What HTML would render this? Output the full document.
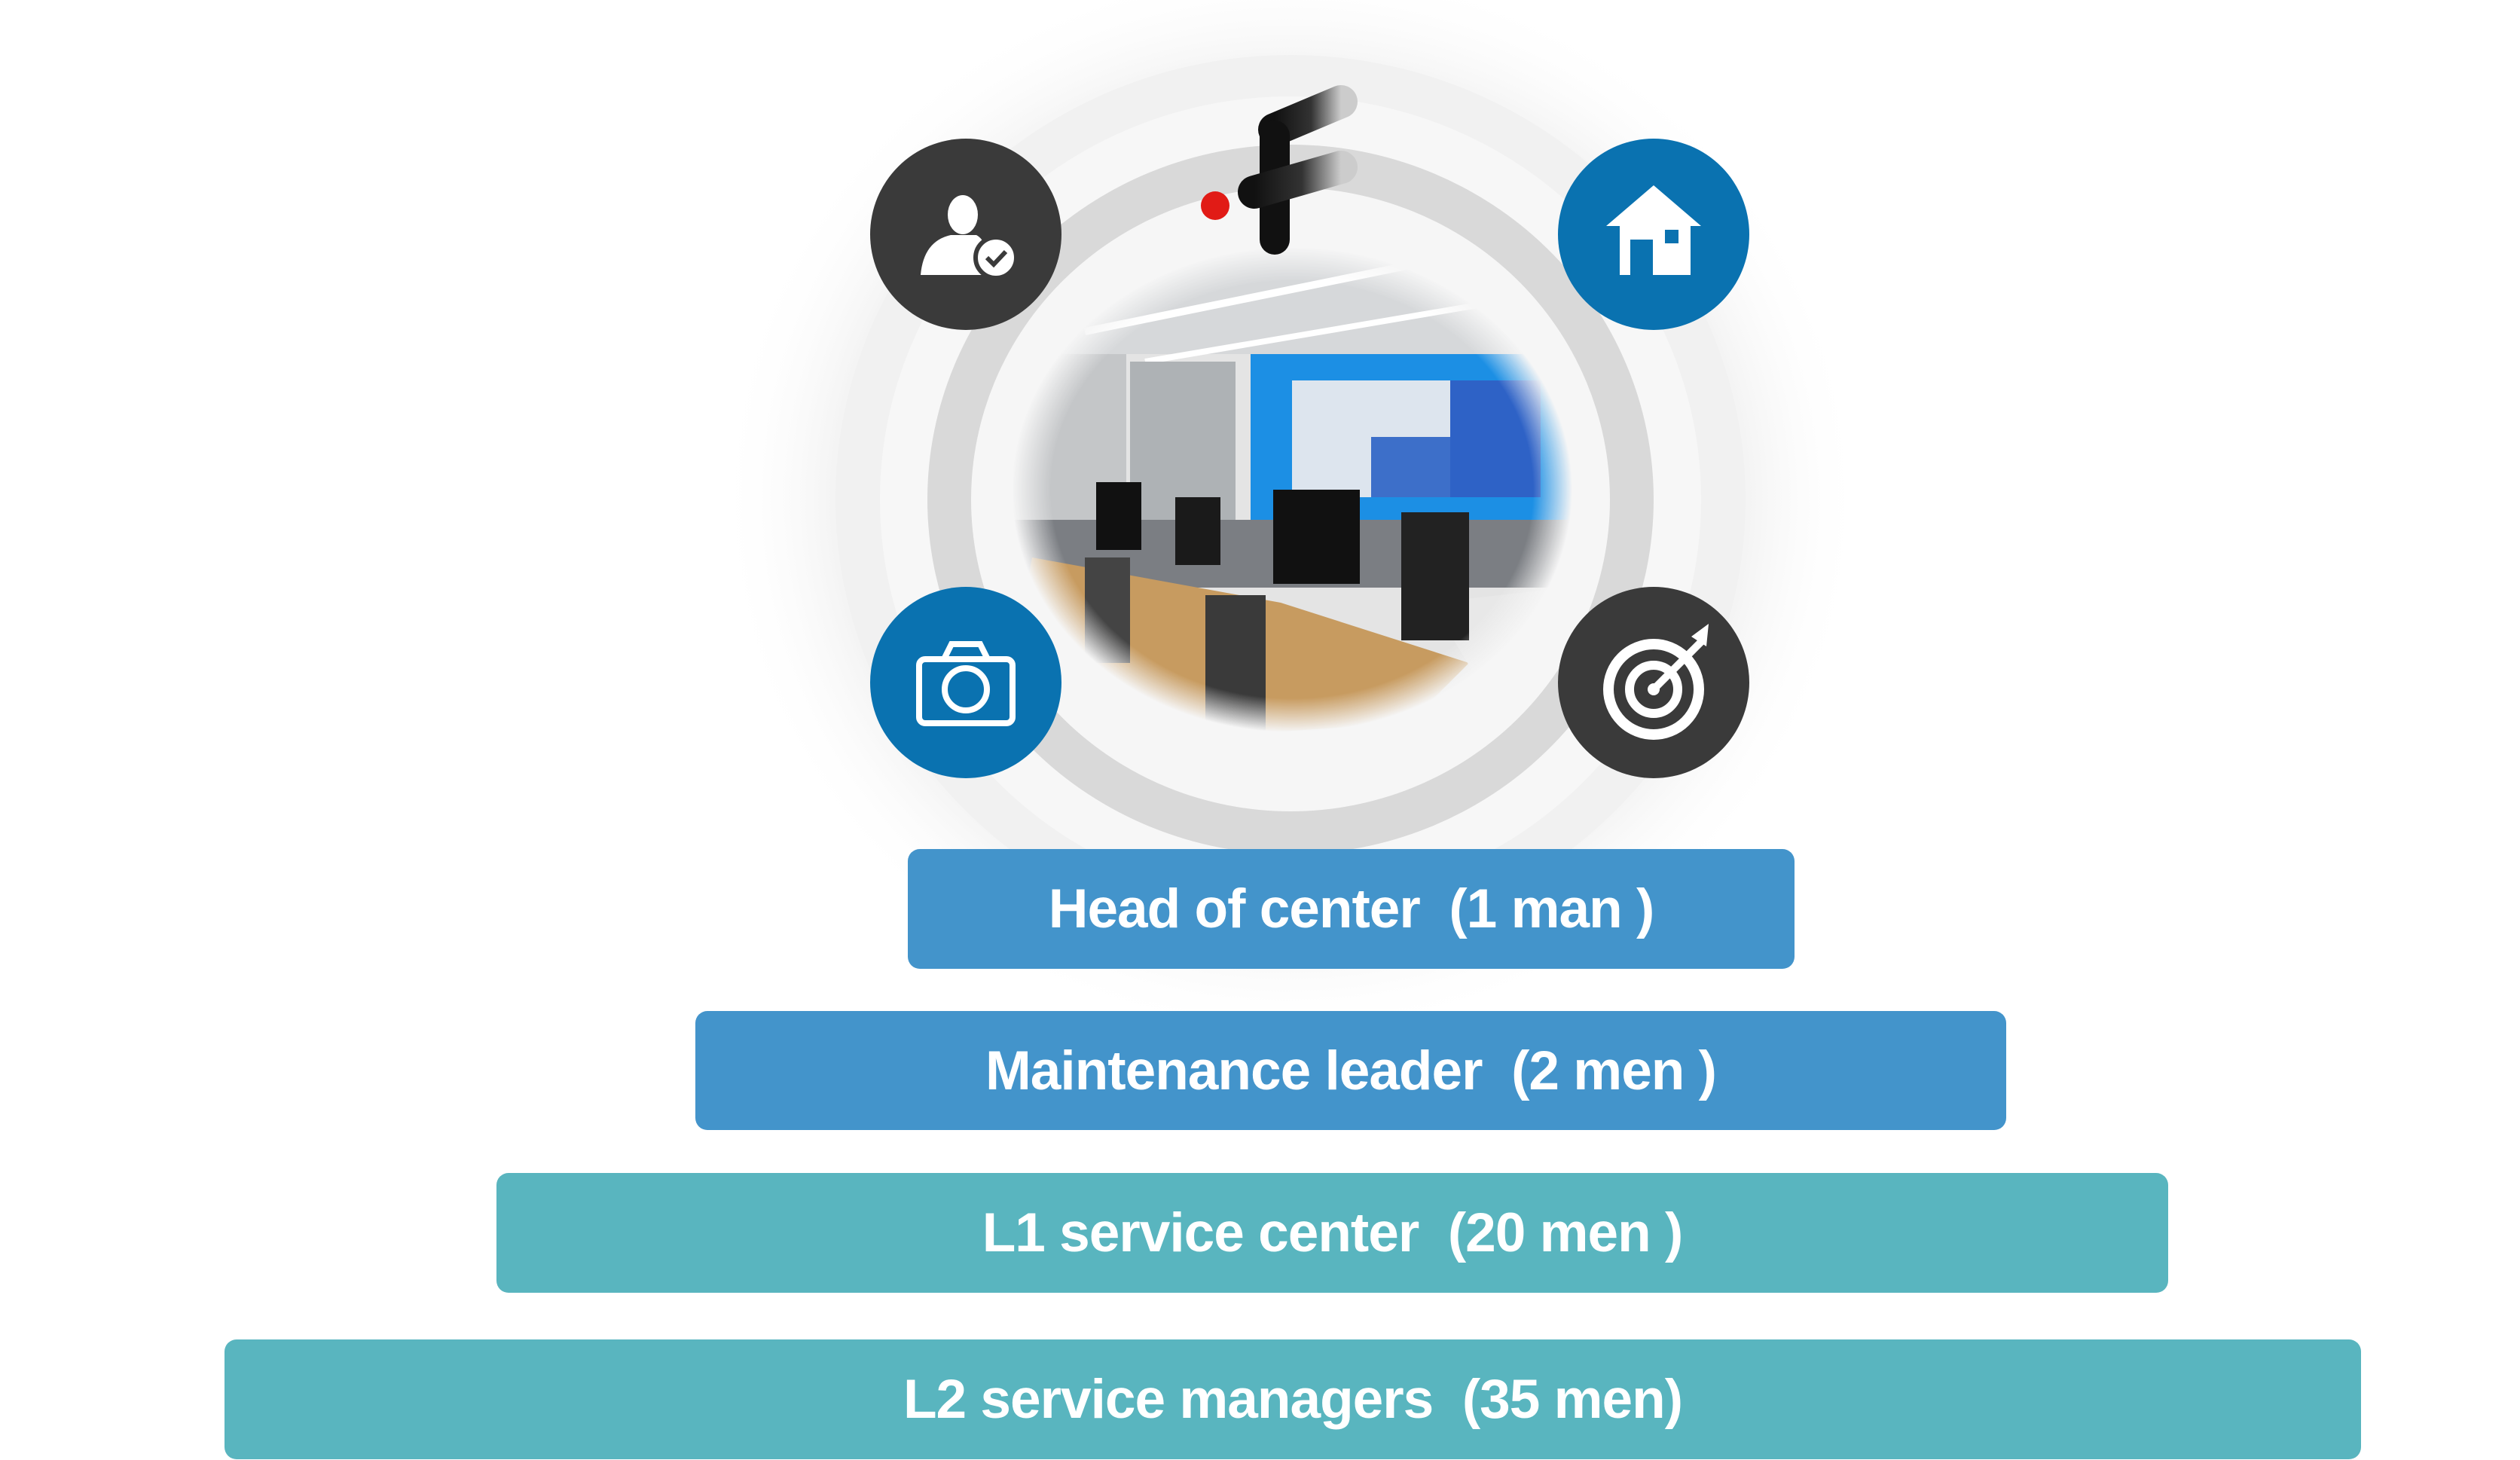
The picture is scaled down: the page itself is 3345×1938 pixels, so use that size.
<!DOCTYPE html>
<html><head><meta charset="utf-8"><style>
html,body{margin:0;padding:0;background:#fff;}
#c{position:relative;width:3345px;height:1938px;overflow:hidden;background:#fff;font-family:"Liberation Sans",sans-serif;}
.bar{position:absolute;border-radius:16px;color:#fff;font-weight:bold;font-size:73px;display:flex;align-items:center;justify-content:center;white-space:pre;letter-spacing:-1px;}
</style></head><body><div id="c">
<svg width="3345" height="1938" style="position:absolute;left:0;top:0">
<defs>
<radialGradient id="glow" cx="50%" cy="50%" r="50%">
<stop offset="0.75" stop-color="#eeeeee"/><stop offset="1" stop-color="#ffffff" stop-opacity="0"/>
</radialGradient>
<radialGradient id="photoMask" cx="50%" cy="50%" r="50%">
<stop offset="0.86" stop-color="#fff"/><stop offset="1" stop-color="#000"/>
</radialGradient>
<mask id="pm"><ellipse cx="1715" cy="650" rx="372" ry="322" fill="url(#photoMask)"/></mask>
<linearGradient id="fg" x1="0" y1="0" x2="1" y2="0"><stop offset="0" stop-color="#111"/><stop offset="0.55" stop-color="#333"/><stop offset="1" stop-color="#ccc"/></linearGradient>
</defs>
<ellipse cx="1713" cy="663" rx="760" ry="720" fill="url(#glow)"/>
<ellipse cx="1713" cy="663" rx="604" ry="590" fill="#f1f1f1"/>
<ellipse cx="1713" cy="663" rx="545" ry="535" fill="#f7f7f7"/>
<ellipse cx="1713" cy="663" rx="482" ry="471" fill="#d9d9d9"/>
<ellipse cx="1713" cy="663" rx="424" ry="414" fill="#f6f6f6"/>
<g mask="url(#pm)">
<rect x="1330" y="320" width="780" height="660" fill="#e4e4e4"/>
<rect x="1330" y="320" width="780" height="150" fill="#d6d8da"/>
<path d="M1440 440 L1980 330" stroke="#fff" stroke-width="10"/>
<path d="M1520 480 L2050 390" stroke="#fff" stroke-width="8"/>
<rect x="1345" y="470" width="150" height="250" fill="#c4c6c8"/>
<rect x="1500" y="480" width="140" height="250" fill="#aeb2b5"/>
<rect x="1660" y="470" width="450" height="240" fill="#1c8fe4"/>
<rect x="1715" y="505" width="330" height="155" fill="#dde5ee"/>
<rect x="1925" y="505" width="120" height="155" fill="#2e62c6"/>
<rect x="1820" y="580" width="105" height="80" fill="#3d6fc9"/>
<rect x="1330" y="690" width="780" height="90" fill="#7b7e83"/>
<polygon points="1370,740 1700,800 1950,880 1870,960 1560,980 1340,900" fill="#c79b60"/>
<polygon points="1900,800 2080,780 2060,880 1960,900" fill="#e8e8e8"/>
<rect x="1690" y="650" width="115" height="125" fill="#111"/>
<rect x="1455" y="640" width="60" height="90" fill="#111"/>
<rect x="1560" y="660" width="60" height="90" fill="#1a1a1a"/>
<rect x="1860" y="680" width="90" height="170" fill="#222"/>
<rect x="1600" y="790" width="80" height="180" fill="#3a3a3a"/>
<rect x="1440" y="740" width="60" height="140" fill="#444"/>
</g>
<circle cx="1282" cy="311" r="127" fill="#3a3a3a"/>
<circle cx="2195" cy="311" r="127" fill="#0a72b0"/>
<circle cx="1282" cy="906" r="127" fill="#0a72b0"/>
<circle cx="2195" cy="906" r="127" fill="#3a3a3a"/>
<!-- person -->
<ellipse cx="1278" cy="285" rx="20" ry="26" fill="#fff"/>
<path d="M1222 365 Q1226 320 1262 312 L1296 312 Q1312 320 1316 365 Z" fill="#fff"/>
<circle cx="1322" cy="342" r="27" fill="#fff" stroke="#3a3a3a" stroke-width="6"/>
<path d="M1310 342 l9 9 l16 -17" stroke="#3a3a3a" stroke-width="6" fill="none"/>
<!-- house -->
<polygon points="2195,246 2258,300 2132,300" fill="#fff"/>
<rect x="2150" y="295" width="94" height="70" fill="#fff"/>
<rect x="2164" y="318" width="30" height="47" fill="#0a72b0"/>
<rect x="2210" y="305" width="18" height="18" fill="#0a72b0"/>
<!-- camera -->
<rect x="1220" y="875" width="124" height="85" rx="8" fill="none" stroke="#fff" stroke-width="8"/>
<path d="M1253 875 l10 -20 h38 l10 20" fill="none" stroke="#fff" stroke-width="8"/>
<circle cx="1282" cy="915" r="28" fill="none" stroke="#fff" stroke-width="8"/>
<!-- target -->
<circle cx="2195" cy="915" r="60" fill="none" stroke="#fff" stroke-width="14"/>
<circle cx="2195" cy="915" r="32" fill="none" stroke="#fff" stroke-width="12"/>
<circle cx="2195" cy="915" r="8" fill="#fff"/>
<path d="M2195 915 L2260 850" stroke="#fff" stroke-width="10"/>
<polygon points="2245,845 2268,828 2265,858" fill="#fff"/>
<!-- logo -->
<circle cx="1613" cy="273" r="19" fill="#e11b16"/>
<path d="M1692 172 L1780 135" stroke="url(#fg)" stroke-width="44" stroke-linecap="round"/>
<path d="M1692 180 L1692 318" stroke="#111" stroke-width="40" stroke-linecap="round"/>
<path d="M1665 255 L1780 222" stroke="url(#fg)" stroke-width="44" stroke-linecap="round"/>
</svg>
<div class="bar" style="left:1205px;top:1127px;width:1177px;height:159px;background:#4394cb">Head of center  (1 man )</div>
<div class="bar" style="left:923px;top:1342px;width:1740px;height:158px;background:#4394cb">Maintenance leader  (2 men )</div>
<div class="bar" style="left:659px;top:1557px;width:2219px;height:159px;background:#59b5bf">L1 service center  (20 men )</div>
<div class="bar" style="left:298px;top:1778px;width:2836px;height:159px;background:#59b5bf">L2 service managers  (35 men)</div>
</div></body></html>
